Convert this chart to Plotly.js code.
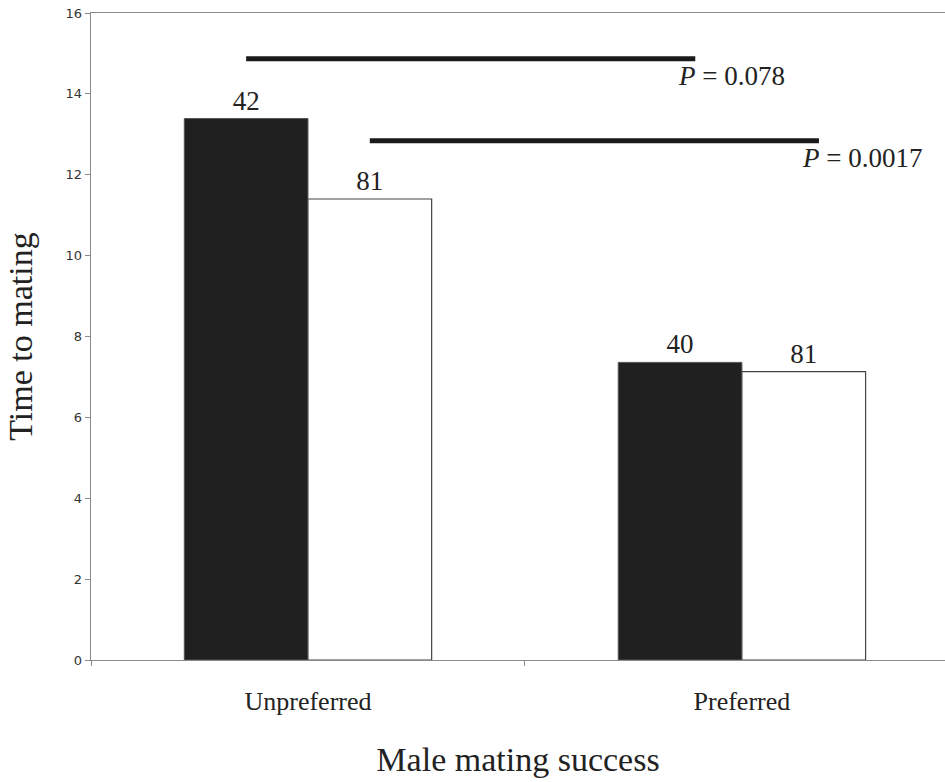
<!DOCTYPE html>
<html>
<head>
<meta charset="utf-8">
<script src="https://cdn.plot.ly/plotly-3.0.1.min.js"></script>
<style>html,body{margin:0;padding:0;background:#fff;overflow:hidden;}</style>
</head>
<body>
<div id="chart" style="width:945px;height:782px;"></div>
<script>
// Data
const categories = ["Unpreferred", "Preferred"];
const seriesDark = [13.39, 7.36];
const seriesLight = [11.40, 7.13];
const nDark = ["42", "40"];
const nLight = ["81", "81"];
const compareY = [14.87, 12.84];
const compareP = ["0.078", "0.0017"];
const compareSeries = ["dark", "light"]; // which bars each comparison links

const serif = "Liberation Serif, Times New Roman, serif";
const bargap = 0.43;
const off = (1 - bargap) / 4;
const ext = 0.035;

const traceDark = {
  type: "bar", x: categories, y: seriesDark, text: nDark,
  textposition: "outside", cliponaxis: false,
  textfont: {family: serif, size: 27, color: "#222"},
  marker: {color: "#202020", line: {color: "#555", width: 1}},
  hoverinfo: "skip"
};
const traceLight = {
  type: "bar", x: categories, y: seriesLight, text: nLight,
  textposition: "outside", cliponaxis: false,
  textfont: {family: serif, size: 27, color: "#222"},
  marker: {color: "#ffffff", line: {color: "#444", width: 1.2}},
  hoverinfo: "skip"
};

const shapes = [];
const annotations = [];
compareY.forEach((yv, i) => {
  const o = compareSeries[i] === "dark" ? -off : off;
  const x0 = 0 + o, x1 = 1 + o + ext;
  shapes.push({type: "line", xref: "x", yref: "y", x0: x0, x1: x1, y0: yv, y1: yv,
    line: {color: "#1a1a1a", width: 5}});
  annotations.push({xref: "x", yref: "y", x: x1, y: yv, xanchor: "left", yanchor: "middle",
    xshift: -19, yshift: -17, showarrow: false,
    text: "<i>P</i> = " + compareP[i],
    font: {family: serif, size: 27, color: "#222"}});
});

const layout = {
  width: 945, height: 782,
  margin: {l: 91, r: 0, t: 13, b: 122},
  paper_bgcolor: "#fff", plot_bgcolor: "#fff",
  barmode: "group", bargap: bargap, bargroupgap: 0,
  showlegend: false,
  xaxis: {
    type: "category", range: [-0.5, 1.468],
    showline: true, linecolor: "#8a8a8a", linewidth: 1.3, mirror: true,
    ticks: "outside", tickson: "boundaries", ticklen: 5, tickcolor: "#8a8a8a",
    ticklabelstandoff: 17,
    showgrid: false, zeroline: false,
    tickfont: {family: serif, size: 26, color: "#222"},
    title: {text: "Male mating success", font: {family: serif, size: 34, color: "#222"}, standoff: 32}
  },
  yaxis: {
    range: [0, 16], dtick: 2, tick0: 0,
    showline: true, linecolor: "#8a8a8a", linewidth: 1.3,
    ticks: "outside", ticklen: 5, tickcolor: "#8a8a8a",
    showgrid: false, zeroline: false,
    tickfont: {family: "DejaVu Sans, Verdana, sans-serif", size: 13, color: "#333"},
    title: {text: "Time to mating", font: {family: serif, size: 34, color: "#222"}, standoff: 22}
  },
  shapes: shapes,
  annotations: annotations
};

Plotly.newPlot("chart", [traceDark, traceLight], layout, {displayModeBar: false, staticPlot: true});
</script>
</body>
</html>
